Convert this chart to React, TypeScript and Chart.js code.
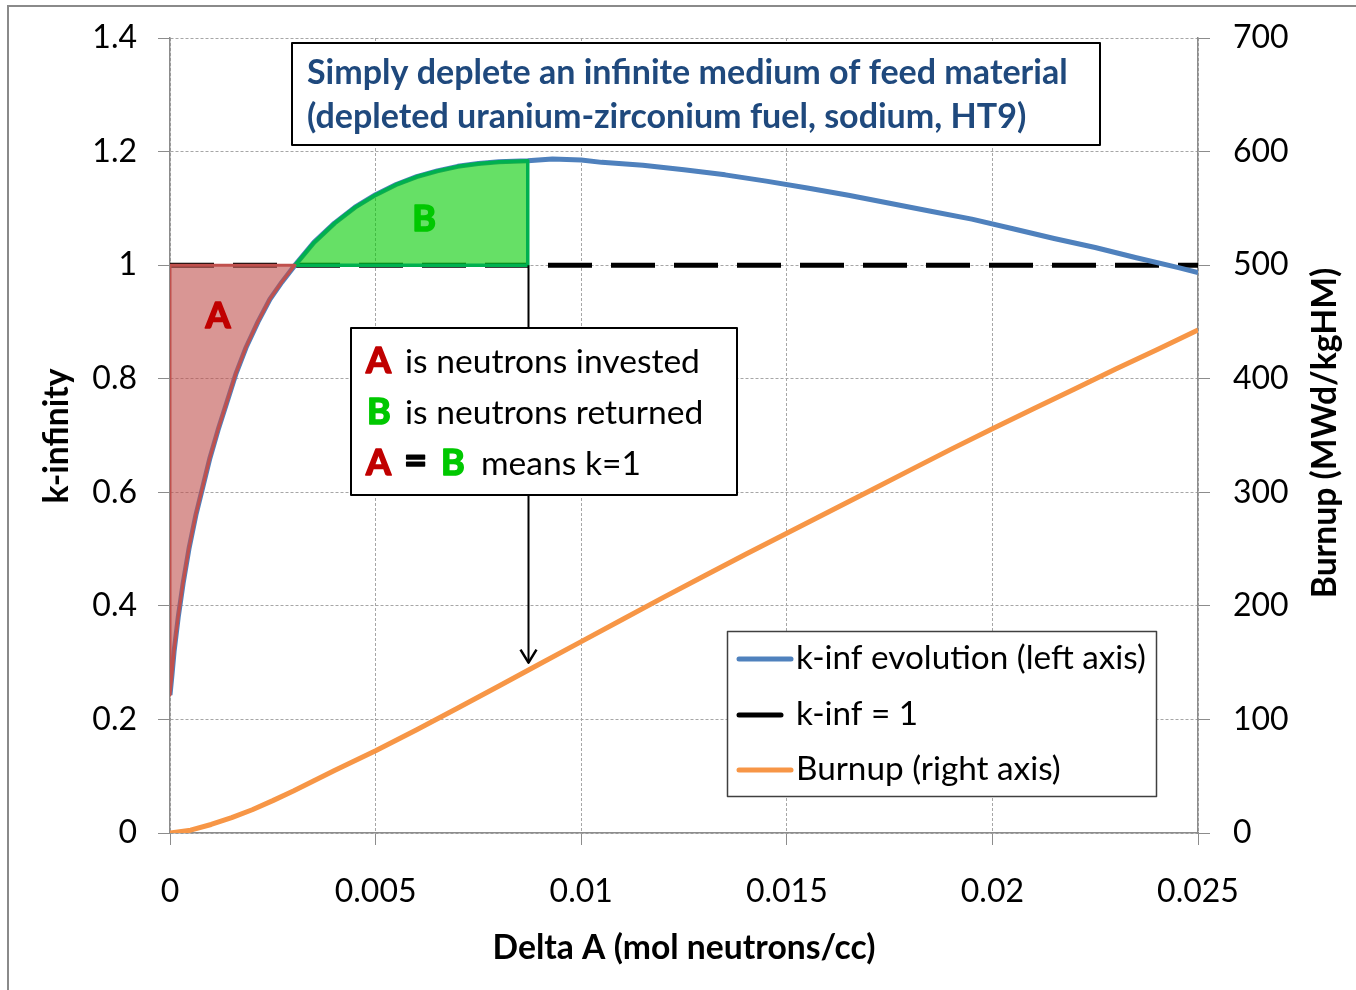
import React, { useEffect, useRef } from 'react';
import { Chart, registerables } from 'chart.js';

Chart.register(...registerables);

// ---------------- data ----------------
const kinfX = [0, 0.00005, 0.0001, 0.0002, 0.00032, 0.00046, 0.00063, 0.0008, 0.00097, 0.00117, 0.00139, 0.00161, 0.00185, 0.00214, 0.00243, 0.00272, 0.00304, 0.0035, 0.004, 0.0045, 0.005, 0.0055, 0.006, 0.0065, 0.007, 0.0075, 0.008, 0.0087, 0.0093, 0.01, 0.0105, 0.0115, 0.0125, 0.0135, 0.0145, 0.0155, 0.0165, 0.0175, 0.0185, 0.0195, 0.0205, 0.0215, 0.0225, 0.0235, 0.0245, 0.025];
const kinfY = [0.243, 0.28, 0.32, 0.38, 0.44, 0.5, 0.56, 0.61, 0.66, 0.71, 0.76, 0.81, 0.855, 0.9, 0.94, 0.97, 1.0, 1.04, 1.074, 1.102, 1.124, 1.142, 1.156, 1.166, 1.174, 1.179, 1.182, 1.184, 1.187, 1.185, 1.181, 1.176, 1.168, 1.159, 1.148, 1.136, 1.123, 1.109, 1.095, 1.081, 1.064, 1.047, 1.031, 1.013, 0.996, 0.987];

const burnupX = [0, 0.0005, 0.001, 0.0015, 0.002, 0.0025, 0.003, 0.0035, 0.004, 0.005, 0.006, 0.007, 0.008, 0.009, 0.01, 0.011, 0.012, 0.013, 0.014, 0.015, 0.016, 0.017, 0.018, 0.019, 0.02, 0.021, 0.022, 0.023, 0.024, 0.025];
const burnupY = [0, 2.5, 7.5, 13.5, 20.5, 28.5, 37, 46, 55, 72.5, 91, 110, 129.5, 149, 168.5, 188, 207.5, 226.5, 245.5, 264, 282.5, 301, 319.5, 338, 356, 373.5, 391, 408.5, 425.5, 443];

const unityX = [0, 0.025];
const unityY = [1, 1];

const regionAEndX = 0.00304; // k-inf crosses 1
const regionBEndX = 0.0087; // end of returned-neutron area
const arrowTipBurnup = 150; // arrow tip (right-axis value)

const xTickValues = [0, 0.005, 0.01, 0.015, 0.02, 0.025];
const xTickLabels = ['0', '0.005', '0.01', '0.015', '0.02', '0.025'];
const leftTickValues = [0, 0.2, 0.4, 0.6, 0.8, 1.0, 1.2, 1.4];
const leftTickLabels = ['0', '0.2', '0.4', '0.6', '0.8', '1', '1.2', '1.4'];
const rightTickValues = [0, 100, 200, 300, 400, 500, 600, 700];
const rightTickLabels = ['0', '100', '200', '300', '400', '500', '600', '700'];

const legendLabels = ['k-inf evolution (left axis)', 'k-inf = 1', 'Burnup (right axis)'];
const titleLines = ['Simply deplete an infinite medium of feed material', '(depleted uranium-zirconium fuel, sodium, HT9)'];
const noteTexts = ['is neutrons invested', 'is neutrons returned', 'means k=1'];
const xTitle = 'Delta A (mol neutrons/cc)';
const yTitle = 'k-infinity';
const y1Title = 'Burnup (MWd/kgHM)';

// ---------------- styles ----------------
const FONT = 'Lato, "Open Sans", sans-serif';
const BLUE = '#4F81BD';
const ORANGE = '#F79646';
const RED = '#C0504D';
const DARKRED = '#C00000';
const GREEN = '#00B050';
const BRIGHTGREEN = '#00C800';
const AXIS = '#8c8c8c';
const GRID = '#a6a6a6';

function fitSize(ctx: CanvasRenderingContext2D, text: string, weight: string, width: number) {
  ctx.font = `${weight} 100px ${FONT}`;
  return (100 * width) / ctx.measureText(text).width;
}
function setFont(ctx: CanvasRenderingContext2D, weight: string, size: number) {
  ctx.font = `${weight} ${size}px ${FONT}`;
}
function heavyText(ctx: CanvasRenderingContext2D, text: string, x: number, y: number, color: string) {
  ctx.fillStyle = color;
  ctx.strokeStyle = color;
  ctx.lineWidth = 1.6;
  ctx.lineJoin = 'round';
  ctx.fillText(text, x, y);
  ctx.strokeText(text, x, y);
}

const overlayPlugin = {
  id: 'overlay',
  beforeDraw(chart: any) {
    const ctx: CanvasRenderingContext2D = chart.ctx;
    ctx.save();
    ctx.fillStyle = '#ffffff';
    ctx.fillRect(0, 0, chart.width, chart.height);
    ctx.strokeStyle = '#8a8a8a';
    ctx.lineWidth = 2;
    ctx.beginPath();
    ctx.moveTo(8, chart.height);
    ctx.lineTo(8, 6);
    ctx.lineTo(chart.width, 6);
    ctx.stroke();
    ctx.restore();
  },
  afterDraw(chart: any) {
    const ctx: CanvasRenderingContext2D = chart.ctx;
    const xs = chart.scales.x;
    const ys = chart.scales.y;
    const y1s = chart.scales.y1;
    ctx.save();

    // region letters
    setFont(ctx, 'bold', 36);
    ctx.textAlign = 'center';
    ctx.textBaseline = 'alphabetic';
    heavyText(ctx, 'A', 218, 328, DARKRED);
    heavyText(ctx, 'B', 424, 231, BRIGHTGREEN);

    // arrow
    const ax = Math.round(xs.getPixelForValue(regionBEndX)) + 0.5;
    const ay0 = ys.getPixelForValue(1);
    const ay1 = y1s.getPixelForValue(arrowTipBurnup);
    ctx.strokeStyle = '#000';
    ctx.lineWidth = 2;
    ctx.beginPath();
    ctx.moveTo(ax, ay0);
    ctx.lineTo(ax, ay1);
    ctx.stroke();
    ctx.lineWidth = 2.5;
    ctx.beginPath();
    ctx.moveTo(ax - 8, ay1 - 13);
    ctx.lineTo(ax, ay1);
    ctx.lineTo(ax + 8, ay1 - 13);
    ctx.stroke();

    // title box
    ctx.fillStyle = '#fff';
    ctx.fillRect(292, 43, 808, 102);
    ctx.strokeStyle = '#000';
    ctx.lineWidth = 2;
    ctx.strokeRect(292, 43, 808, 102);
    const tSize = fitSize(ctx, titleLines[0], 'bold', 761);
    setFont(ctx, 'bold', tSize);
    ctx.fillStyle = '#1F497D';
    ctx.textAlign = 'left';
    ctx.fillText(titleLines[0], 307, 84);
    ctx.fillText(titleLines[1], 307, 128);

    // annotation box
    ctx.fillStyle = '#fff';
    ctx.fillRect(351, 328, 386, 167);
    ctx.strokeStyle = '#000';
    ctx.lineWidth = 2;
    ctx.strokeRect(351, 328, 386, 167);
    const nSize = fitSize(ctx, noteTexts[0], 'normal', 295);
    const rows = [373, 424, 475];
    setFont(ctx, 'bold', 36);
    heavyText(ctx, 'A', 366, rows[0], DARKRED);
    heavyText(ctx, 'A', 366, rows[2], DARKRED);
    heavyText(ctx, 'B', 367, rows[1], BRIGHTGREEN);
    heavyText(ctx, 'B', 441, rows[2], BRIGHTGREEN);
    setFont(ctx, 'bold', 40);
    heavyText(ctx, '=', 404, rows[2] - 1, '#000');
    setFont(ctx, 'normal', nSize);
    ctx.fillStyle = '#000';
    ctx.fillText(noteTexts[0], 405, rows[0]);
    ctx.fillText(noteTexts[1], 405, rows[1]);
    ctx.fillText(noteTexts[2], 481, rows[2]);

    // legend
    ctx.fillStyle = '#fff';
    ctx.fillRect(727, 631, 429, 166);
    ctx.strokeStyle = '#404040';
    ctx.lineWidth = 1.5;
    ctx.strokeRect(727.5, 631.5, 429, 165);
    const lSize = fitSize(ctx, legendLabels[0], 'normal', 350);
    const legendRows = [659, 715, 770];
    const legendColors = [BLUE, '#000', ORANGE];
    const legendEnds = [791, 781, 791];
    ctx.lineCap = 'round';
    ctx.lineWidth = 5;
    legendRows.forEach((ly, i) => {
      ctx.strokeStyle = legendColors[i];
      ctx.beginPath();
      ctx.moveTo(739, ly);
      ctx.lineTo(legendEnds[i], ly);
      ctx.stroke();
    });
    setFont(ctx, 'normal', lSize);
    ctx.fillStyle = '#000';
    ctx.textAlign = 'left';
    legendLabels.forEach((t, i) => ctx.fillText(t, 796, legendRows[i] + 10));

    // axis titles
    const aSize = fitSize(ctx, xTitle, 'bold', 383);
    setFont(ctx, 'bold', aSize);
    ctx.textAlign = 'center';
    ctx.textBaseline = 'middle';
    ctx.fillStyle = '#000';
    ctx.fillText(xTitle, 684, 948);
    ctx.save();
    ctx.translate(57, 436);
    ctx.rotate(-Math.PI / 2);
    ctx.fillText(yTitle, 0, 0);
    ctx.restore();
    ctx.save();
    ctx.translate(1325, 433);
    ctx.rotate(-Math.PI / 2);
    ctx.fillText(y1Title, 0, 0);
    ctx.restore();

    ctx.restore();
  },
};

export default function App() {
  const ref = useRef<HTMLCanvasElement | null>(null);

  useEffect(() => {
    if (!ref.current) return;
    const kinfPts = kinfX.map((x, i) => ({ x, y: kinfY[i] }));
    const burnPts = burnupX.map((x, i) => ({ x, y: burnupY[i] }));
    const unityPts = unityX.map((x, i) => ({ x, y: unityY[i] }));
    const regionA = [
      { x: 0, y: 1 },
      { x: regionAEndX, y: 1 },
      ...kinfPts.filter((p) => p.x <= regionAEndX).reverse(),
      { x: 0, y: 1 },
    ];
    const regionB = [
      ...kinfPts.filter((p) => p.x >= regionAEndX && p.x <= regionBEndX),
      { x: regionBEndX, y: 1 },
      { x: regionAEndX, y: 1 },
    ];

    const tickFont = { family: FONT, size: 32 };

    const chart = new Chart(ref.current, {
      type: 'line',
      data: {
        datasets: [
          {
            label: 'A',
            data: regionA,
            borderColor: RED,
            backgroundColor: 'rgba(192,80,77,0.6)',
            borderWidth: 3,
            fill: 'shape',
            order: 1,
            yAxisID: 'y',
          },
          {
            label: 'B',
            data: regionB,
            borderColor: GREEN,
            backgroundColor: 'rgba(0,204,0,0.6)',
            borderWidth: 3.5,
            fill: 'shape',
            order: 2,
            yAxisID: 'y',
          },
          {
            label: legendLabels[0],
            data: kinfPts,
            borderColor: BLUE,
            borderWidth: 5,
            fill: false,
            order: 3,
            yAxisID: 'y',
          },
          {
            label: legendLabels[1],
            data: unityPts,
            borderColor: '#000',
            borderWidth: 5,
            borderDash: [44, 19],
            borderCapStyle: 'butt',
            fill: false,
            order: 4,
            yAxisID: 'y',
          },
          {
            label: legendLabels[2],
            data: burnPts,
            borderColor: ORANGE,
            borderWidth: 5,
            fill: false,
            order: 5,
            yAxisID: 'y1',
          },
        ] as any,
      },
      options: {
        responsive: false,
        animation: false,
        devicePixelRatio: 1,
        layout: { padding: { top: 38, left: 0, right: 0, bottom: 0 } },
        plugins: {
          legend: { display: false },
          tooltip: { enabled: false },
          title: { display: false },
        },
        elements: {
          point: { radius: 0, hoverRadius: 0 },
          line: { tension: 0, borderJoinStyle: 'round' },
        },
        scales: {
          x: {
            type: 'linear',
            min: 0,
            max: 0.025,
            afterBuildTicks: (s: any) => {
              s.ticks = xTickValues.map((v) => ({ value: v }));
            },
            afterFit: (s: any) => {
              s.height = 157;
            },
            ticks: {
              callback: (_v: any, i: number) => xTickLabels[i],
              font: tickFont,
              color: '#000',
              padding: 27,
              maxRotation: 0,
              autoSkip: false,
            },
            grid: { color: GRID, lineWidth: 1, tickLength: 12, tickColor: AXIS, drawTicks: true },
            border: { display: true, color: AXIS, width: 1.5, dash: [3, 2] },
          },
          y: {
            type: 'linear',
            position: 'left',
            min: 0,
            max: 1.4,
            afterBuildTicks: (s: any) => {
              s.ticks = leftTickValues.map((v) => ({ value: v }));
            },
            afterFit: (s: any) => {
              s.width = 170;
              s.paddingTop = 0;
              s.paddingBottom = 0;
            },
            ticks: {
              callback: (_v: any, i: number) => leftTickLabels[i],
              font: tickFont,
              color: '#000',
              padding: 21,
              autoSkip: false,
            },
            grid: { color: GRID, lineWidth: 1, tickLength: 12, tickColor: AXIS, drawTicks: true },
            border: { display: true, color: AXIS, width: 1.5, dash: [3, 2] },
          },
          y1: {
            type: 'linear',
            position: 'right',
            min: 0,
            max: 700,
            afterBuildTicks: (s: any) => {
              s.ticks = rightTickValues.map((v) => ({ value: v }));
            },
            afterFit: (s: any) => {
              s.width = 158;
              s.paddingTop = 0;
              s.paddingBottom = 0;
            },
            ticks: {
              callback: (_v: any, i: number) => rightTickLabels[i],
              font: tickFont,
              color: '#000',
              padding: 23,
              autoSkip: false,
            },
            grid: { drawOnChartArea: false, color: AXIS, tickLength: 12, tickColor: AXIS, drawTicks: true },
            border: { display: true, color: AXIS, width: 1.5 },
          },
        },
      } as any,
      plugins: [overlayPlugin],
    });

    return () => {
      chart.destroy();
    };
  }, []);

  return (
    <div style={{ position: 'absolute', left: 0, top: 0, width: 1356, height: 990, overflow: 'hidden' }}>
      <canvas ref={ref} width={1356} height={990} style={{ display: 'block', width: 1356, height: 990 }} />
    </div>
  );
}
